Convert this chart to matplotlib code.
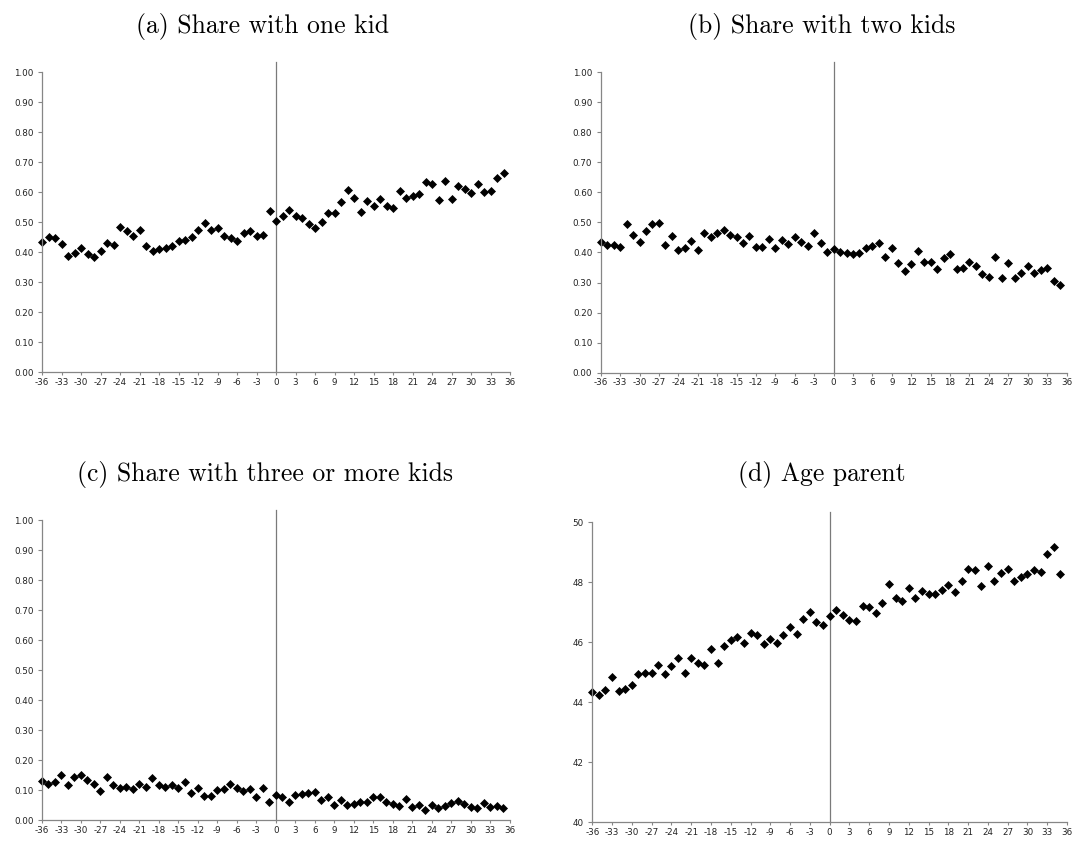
import numpy as np
import matplotlib.pyplot as plt

# months relative to the event, -36 .. 35
months = np.arange(-36, 36)
xticks = np.arange(-36, 37, 3)
xlabels = [str(t) for t in xticks]

one_kid = [0.432, 0.451, 0.446, 0.426, 0.387, 0.396, 0.413, 0.392, 0.382, 0.403,
           0.429, 0.423, 0.482, 0.471, 0.453, 0.472, 0.421, 0.403, 0.411, 0.412,
           0.421, 0.437, 0.439, 0.451, 0.472, 0.497, 0.474, 0.480, 0.452, 0.447,
           0.436, 0.462, 0.470, 0.453, 0.456, 0.538, 0.502, 0.521, 0.539, 0.520,
           0.513, 0.493, 0.481, 0.499, 0.531, 0.531, 0.566, 0.608, 0.579, 0.534,
           0.569, 0.553, 0.576, 0.553, 0.548, 0.602, 0.579, 0.586, 0.592, 0.634,
           0.627, 0.572, 0.636, 0.577, 0.620, 0.610, 0.597, 0.627, 0.601, 0.604,
           0.646, 0.662]

two_kids = [0.435, 0.425, 0.424, 0.419, 0.495, 0.459, 0.435, 0.473, 0.494, 0.498,
            0.425, 0.456, 0.408, 0.416, 0.439, 0.407, 0.465, 0.452, 0.466, 0.475,
            0.459, 0.452, 0.433, 0.455, 0.418, 0.419, 0.444, 0.415, 0.442, 0.429,
            0.453, 0.435, 0.423, 0.464, 0.430, 0.400, 0.413, 0.400, 0.397, 0.394,
            0.397, 0.414, 0.422, 0.432, 0.386, 0.416, 0.366, 0.339, 0.363, 0.404,
            0.367, 0.367, 0.345, 0.383, 0.395, 0.346, 0.348, 0.367, 0.354, 0.329,
            0.320, 0.385, 0.314, 0.364, 0.314, 0.333, 0.356, 0.331, 0.341, 0.348,
            0.305, 0.293]

three_plus = [0.130, 0.119, 0.127, 0.151, 0.116, 0.142, 0.149, 0.132, 0.121, 0.097,
              0.142, 0.117, 0.106, 0.109, 0.102, 0.119, 0.110, 0.140, 0.118, 0.109,
              0.118, 0.107, 0.127, 0.090, 0.107, 0.081, 0.079, 0.101, 0.102, 0.119,
              0.107, 0.098, 0.103, 0.078, 0.108, 0.059, 0.082, 0.076, 0.060, 0.082,
              0.087, 0.089, 0.093, 0.066, 0.078, 0.049, 0.066, 0.050, 0.053, 0.059,
              0.059, 0.077, 0.076, 0.060, 0.053, 0.047, 0.069, 0.043, 0.049, 0.033,
              0.051, 0.039, 0.047, 0.057, 0.063, 0.053, 0.044, 0.039, 0.057, 0.044,
              0.047, 0.041]

age_parent = [44.34, 44.24, 44.41, 44.83, 44.39, 44.44, 44.57, 44.93, 44.97, 44.97,
              45.24, 44.94, 45.21, 45.47, 44.98, 45.47, 45.32, 45.26, 45.77, 45.32,
              45.88, 46.06, 46.19, 45.97, 46.31, 46.23, 45.94, 46.12, 45.97, 46.23,
              46.52, 46.28, 46.79, 47.00, 46.67, 46.59, 46.88, 47.06, 46.92, 46.73,
              46.72, 47.22, 47.17, 46.98, 47.30, 47.96, 47.47, 47.37, 47.81, 47.48,
              47.71, 47.61, 47.61, 47.74, 47.90, 47.68, 48.03, 48.46, 48.41, 47.89,
              48.53, 48.04, 48.32, 48.43, 48.04, 48.19, 48.27, 48.42, 48.36, 48.96,
              49.17, 48.27]

titles = ["(a) Share with one kid", "(b) Share with two kids",
          "(c) Share with three or more kids", "(d) Age parent"]

W, H = 1075, 843
grey = "#868686"
tick_font = "DejaVu Sans"


def px_axes(fig, left, right, bottom, top):
    return fig.add_axes([left / W, 1 - bottom / H, (right - left) / W, (bottom - top) / H])


def style(ax, ylim, yticks, yfmt):
    ax.set_xlim(-36, 36)
    ax.set_ylim(*ylim)
    ax.set_xticks(xticks)
    ax.set_xticklabels(xlabels)
    ax.set_yticks(yticks)
    ax.set_yticklabels([yfmt.format(v) for v in yticks])
    for s in ["top", "right"]:
        ax.spines[s].set_visible(False)
    for s in ["left", "bottom"]:
        ax.spines[s].set_color(grey)
        ax.spines[s].set_linewidth(0.9)
    ax.tick_params(axis="x", direction="out", length=2.5, width=0.8, color=grey,
                   pad=1.5, labelsize=6.3)
    ax.tick_params(axis="y", direction="out", length=3, width=0.8, color=grey,
                   pad=3, labelsize=6.3)
    for lab in ax.get_xticklabels() + ax.get_yticklabels():
        lab.set_fontfamily(tick_font)
        lab.set_color("#222222")


fig = plt.figure(figsize=(W / 100, H / 100), dpi=100)

share_ticks = np.round(np.arange(0, 1.01, 0.1), 2)

ax_a = px_axes(fig, 42, 510, 372, 72)
ax_b = px_axes(fig, 600.7, 1066.5, 372.7, 72.1)
ax_c = px_axes(fig, 42, 509.5, 820, 520)
ax_d = px_axes(fig, 592.3, 1067, 822.3, 522.3)

panels = [(ax_a, one_kid), (ax_b, two_kids), (ax_c, three_plus)]
for ax, vals in panels:
    style(ax, (0, 1), share_ticks, "{:.2f}")
    ax.axvline(0, ymin=0, ymax=1.034, color="#7a7a7a", lw=0.9, clip_on=False)
    ax.plot(months, vals, "D", color="black", ms=3.7, mew=0.5, clip_on=False)

style(ax_d, (40, 50), np.arange(40, 51, 2), "{:.0f}")
ax_d.axvline(0, ymin=0, ymax=1.035, color="#7a7a7a", lw=0.9, clip_on=False)
ax_d.plot(months, age_parent, "D", color="black", ms=3.7, mew=0.5, clip_on=False)

title_pos = [(263, 32.7), (822, 32.7), (265, 481), (822, 481)]
for t, (x, y) in zip(titles, title_pos):
    fig.text(x / W, 1 - y / H, t, ha="center", va="baseline",
             fontfamily="cmr10", fontsize=18.5)

fig.savefig("out.png", dpi=100)
